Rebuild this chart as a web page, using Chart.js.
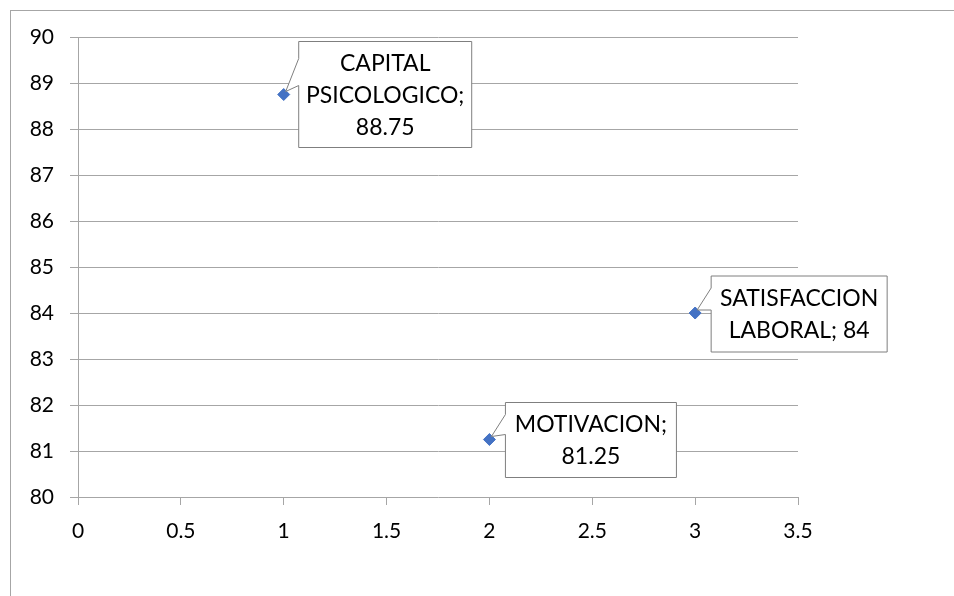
<!DOCTYPE html>
<html>
<head>
<meta charset="utf-8">
<script src="https://cdn.jsdelivr.net/npm/chart.js@4.4.1/dist/chart.umd.min.js"></script>
<style>
  html, body { margin: 0; padding: 0; background: #fff; }
  #wrap { position: relative; width: 954px; height: 596px; }
  #frame { position: absolute; left: 10px; top: 10px; width: 960px; height: 600px;
           border-left: 1px solid #a6a6a6; border-top: 1px solid #a6a6a6; }
  canvas { position: absolute; left: 0; top: 0; }
</style>
</head>
<body>
<div id="wrap">
  <div id="frame"></div>
  <canvas id="scatter-chart" width="954" height="596"></canvas>
</div>
<script>
// Chart data
const pointNames = ['CAPITAL PSICOLOGICO', 'MOTIVACION', 'SATISFACCION LABORAL'];
const xValues = [1, 2, 3];
const yValues = [88.75, 81.25, 84];
const labelLines = [
    ['CAPITAL', 'PSICOLOGICO;', '88.75'],
    ['MOTIVACION;', '81.25'],
    ['SATISFACCION', 'LABORAL; 84']
];
const xTicks = [0, 0.5, 1, 1.5, 2, 2.5, 3, 3.5];
const yTicks = [80, 81, 82, 83, 84, 85, 86, 87, 88, 89, 90];

// Callout box placement relative to each point (pixels)
const calloutBoxes = [
    { dx: 15, dy: -53, w: 173, h: 106, wedgeTop: 17, wedgeBottom: 44 },
    { dx: 16, dy: -37, w: 171, h: 75, wedgeTop: 12, wedgeBottom: 32 },
    { dx: 16, dy: -37, w: 176, h: 76, wedgeTop: 12, wedgeBottom: 34 }
];

const FONT = 'Lato, "Open Sans", sans-serif';
const GRID = '#a6a6a6';

// Draw Excel-style callout labels
const calloutPlugin = {
    id: 'callouts',
    afterDatasetsDraw(chart) {
        const ctx = chart.ctx;
        const meta = chart.getDatasetMeta(0);
        ctx.save();
        meta.data.forEach(function(pt, i) {
            const box = calloutBoxes[i];
            const L = pt.x + box.dx, T = pt.y + box.dy;
            const R = L + box.w, B = T + box.h;
            const tipX = pt.x + 2, tipY = pt.y - 3;
            ctx.beginPath();
            ctx.moveTo(L, T);
            ctx.lineTo(R, T);
            ctx.lineTo(R, B);
            ctx.lineTo(L, B);
            ctx.lineTo(L, T + box.wedgeBottom);
            ctx.lineTo(tipX, tipY);
            ctx.lineTo(L, T + box.wedgeTop);
            ctx.closePath();
            ctx.fillStyle = '#ffffff';
            ctx.fill();
            ctx.strokeStyle = '#7f7f7f';
            ctx.lineWidth = 1;
            ctx.stroke();

            const lines = labelLines[i];
            const lh = 32;
            const cy = (T + B) / 2;
            ctx.fillStyle = '#000000';
            ctx.font = '23px ' + FONT;
            ctx.textAlign = 'center';
            ctx.textBaseline = 'middle';
            lines.forEach(function(line, k) {
                ctx.fillText(line, (L + R) / 2, cy + 1 + (k - (lines.length - 1) / 2) * lh);
            });
        });
        ctx.restore();
    }
};

const ctx = document.getElementById('scatter-chart').getContext('2d');
const chart = new Chart(ctx, {
    type: 'scatter',
    data: {
        datasets: [{
            label: 'Series',
            data: xValues.map((x, i) => ({ x: x, y: yValues[i], name: pointNames[i] })),
            pointStyle: 'rectRot',
            pointRadius: 6,
            backgroundColor: '#4472c4',
            borderColor: '#4472c4',
            borderWidth: 1
        }]
    },
    options: {
        responsive: false,
        animation: false,
        layout: { padding: { top: 37, right: 156, left: 0, bottom: 0 } },
        plugins: {
            legend: { display: false },
            tooltip: { enabled: false }
        },
        scales: {
            x: {
                type: 'linear',
                min: 0,
                max: 3.5,
                afterBuildTicks: function(axis) {
                    axis.ticks = xTicks.map(v => ({ value: v }));
                },
                afterFit: function(axis) { axis.height = 99; },
                grid: { drawOnChartArea: false, drawTicks: true, tickLength: 8, color: GRID },
                border: { display: false },
                ticks: {
                    color: '#000',
                    font: { family: FONT, size: 21 },
                    padding: 14,
                    maxRotation: 0,
                    callback: v => String(v)
                }
            },
            y: {
                type: 'linear',
                min: 80,
                max: 90,
                afterBuildTicks: function(axis) {
                    axis.ticks = yTicks.map(v => ({ value: v }));
                },
                afterFit: function(axis) { axis.width = 78; },
                grid: { color: GRID, tickLength: 8 },
                border: { display: true, color: GRID },
                ticks: {
                    color: '#000',
                    font: { family: FONT, size: 21 },
                    padding: 16,
                    callback: v => String(v)
                }
            }
        }
    },
    plugins: [calloutPlugin]
});
</script>
</body>
</html>
